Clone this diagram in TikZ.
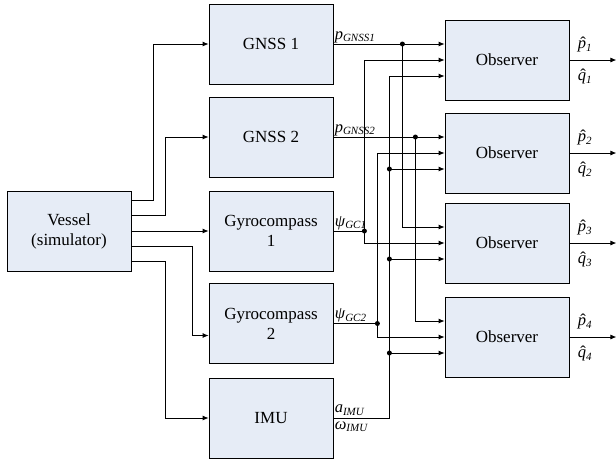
\documentclass[tikz,border=0pt]{standalone}
\usepackage{fontspec}
\setmainfont{Liberation Serif}
\usetikzlibrary{arrows.meta,calc}
\definecolor{boxfill}{RGB}{230,236,246}
\newcommand{\sig}[2]{\textit{#1}\raisebox{-0.35ex}{\fontsize{11}{13}\selectfont\textit{#2}}}
\newcommand{\hatit}[1]{\setbox0\hbox{\textit{#1}}\rlap{\textit{#1}}\hbox to\wd0{\hss\kern0.15em\symbol{"02C6}\hss}}
\newcommand{\est}[2]{\hatit{#1}\raisebox{-0.35ex}{\fontsize{11}{13}\selectfont\textit{#2}}}

\begin{document}
\begin{tikzpicture}[x=1pt,y=-1pt,line width=0.8pt,
  block/.style={draw,fill=boxfill,minimum width=124pt,minimum height=80pt,
    align=center,inner sep=0pt,font=\fontsize{17}{20}\selectfont},
  arr/.style={-{Latex[length=6pt,width=5pt]}},
  lbl/.style={inner sep=1pt,font=\fontsize{16.5}{18}\selectfont},
  dot/.style={fill,circle,inner sep=0pt,minimum size=5pt}]
  \useasboundingbox (0,0) rectangle (616,459);
  \node[block] (vessel) at (69,231) {Vessel\\(simulator)};
  \node[block] (gnss1) at (271,44) {GNSS 1};
  \node[block] (gnss2) at (271,137) {GNSS 2};
  \node[block] (gyro1) at (271,231) {Gyrocompass\\1};
  \node[block] (gyro2) at (271,323.5) {Gyrocompass\\2};
  \node[block] (imu) at (271,418) {IMU};
  \foreach \n/\y in {1/60,2/153,3/243,4/337}
    \node[block] (obs\n) at (507,\y) {Observer};
  \draw[arr] ($(vessel.east)+(0,-31)$) -- ++(22,0) |- (gnss1.west);
  \draw[arr] ($(vessel.east)+(0,-16)$) -- ++(34,0) |- (gnss2.west);
  \draw[arr] (vessel.east) -- (gyro1.west);
  \draw[arr] ($(vessel.east)+(0,15)$) -- ++(61,0) |- ($(gyro2.west)+(0,12)$);
  \draw[arr] ($(vessel.east)+(0,30)$) -- ++(34,0) |- (imu.west);
  \coordinate (j1) at ($(gnss1.east)+(69,0)$);
  \coordinate (j2) at ($(gnss2.east)+(82,0)$);
  \coordinate (j3) at ($(gyro1.east)+(31,0)$);
  \coordinate (j4) at ($(gyro2.east)+(44,0)$);
  \coordinate (bus) at ($(imu.east)+(56,0)$);
  \draw[arr] (gnss1.east) -- ($(obs1.west)+(0,-16)$);
  \draw[arr] (j1) |- ($(obs3.west)+(0,-16)$);
  \draw[arr] (gnss2.east) -- ($(obs2.west)+(0,-16)$);
  \draw[arr] (j2) |- ($(obs4.west)+(0,-16)$);
  \draw (gyro1.east) -- (j3);
  \draw[arr] (j3) |- (obs1.west);
  \draw[arr] (j3) |- (obs3.west);
  \draw (gyro2.east) -- (j4);
  \draw[arr] (j4) |- (obs2.west);
  \draw[arr] (j4) |- (obs4.west);
  \draw[arr] (imu.east) -- (bus) |- ($(obs1.west)+(0,16)$);
  \foreach \n in {2,3,4} {
    \coordinate (in\n) at ($(obs\n.west)+(0,16)$);
    \draw[arr] (bus |- in\n) -- (in\n);
    \node[dot] at (bus |- in\n) {};
  }
  \foreach \j in {j1,j2,j3,j4}
    \node[dot] at (\j) {};
  \foreach \n in {1,...,4} {
    \coordinate (out\n) at ($(obs\n.east)+(47,0)$);
    \draw[arr] (obs\n.east) -- (out\n);
    \node[lbl,anchor=west] at ($(obs\n.east)+(7,-15)$) {\est{p}{\n}};
    \node[lbl,anchor=west] at ($(obs\n.east)+(7,17)$) {\est{q}{\n}};
  }
  \node[lbl,anchor=south west] at (gnss1.east) {\sig{p}{GNSS1}};
  \node[lbl,anchor=south west] at (gnss2.east) {\sig{p}{GNSS2}};
  \node[lbl,anchor=south west] at (gyro1.east) {\sig{ψ}{GC1}};
  \node[lbl,anchor=south west] at (gyro2.east) {\sig{ψ}{GC2}};
  \node[lbl,anchor=south west,inner sep=0pt] at ($(imu.east)+(1,-2)$) {\sig{a}{IMU}};
  \node[lbl,anchor=north west,inner sep=0pt] at ($(imu.east)+(1,3)$) {\sig{ω}{IMU}};
\end{tikzpicture}
\end{document}
